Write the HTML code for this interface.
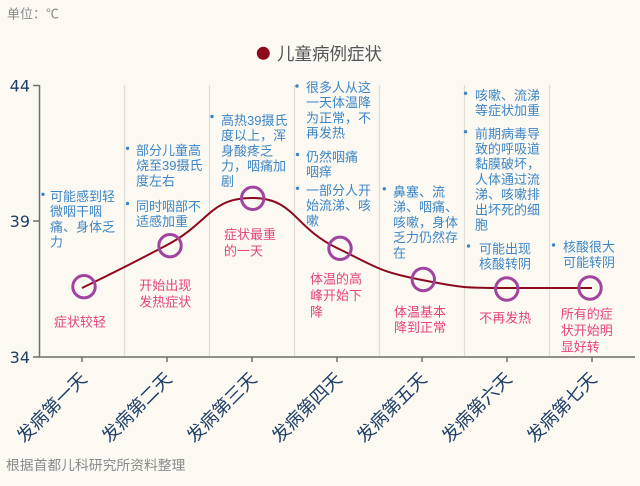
<!DOCTYPE html>
<html><head><meta charset="utf-8"><style>
html,body{margin:0;padding:0;background:#fcf9f2;}
svg{display:block;}
.b{font-family:"Liberation Sans","Noto Sans CJK SC",sans-serif;font-size:13px;fill:#3d86c6;}
.p{font-family:"Liberation Sans","Noto Sans CJK SC",sans-serif;font-size:13px;fill:#e2457a;}
.g{font-family:"Liberation Sans","Noto Sans CJK SC",sans-serif;fill:#8a8a8a;}
.xl{font-family:"Liberation Sans","Noto Sans CJK SC",sans-serif;font-size:18px;fill:#1f3f66;}
.yl{font-family:"DejaVu Sans","Liberation Sans",sans-serif;font-size:16px;fill:#1f3f66;}
</style></head><body>
<svg width="640" height="486" viewBox="0 0 640 486" xmlns="http://www.w3.org/2000/svg">
<rect width="640" height="486" fill="#fcf9f2"/>
<text class="g" x="7" y="18.5" font-size="13">单位：℃</text>
<circle cx="263.3" cy="53.3" r="6.5" fill="#8b0a1e"/>
<text x="277" y="60" font-family="Liberation Sans, Noto Sans CJK SC, sans-serif" font-size="17.5" fill="#555">儿童病例症状</text>

<g stroke="#e0ddd4" stroke-width="1.2">
<line x1="124.5" y1="85" x2="124.5" y2="357"/>
<line x1="209.5" y1="85" x2="209.5" y2="357"/>
<line x1="294.5" y1="85" x2="294.5" y2="357"/>
<line x1="379.5" y1="85" x2="379.5" y2="357"/>
<line x1="464.5" y1="85" x2="464.5" y2="357"/>
<line x1="549.5" y1="85" x2="549.5" y2="357"/>
</g>
<g stroke="#6e6e6e" stroke-width="1.5" fill="none">
<line x1="39.5" y1="85" x2="39.5" y2="357"/>
<line x1="33" y1="85.5" x2="39.5" y2="85.5"/>
<line x1="33" y1="221" x2="39.5" y2="221"/>
<line x1="33" y1="357" x2="635" y2="357"/>
<line x1="82" y1="357" x2="82" y2="362"/>
<line x1="167" y1="357" x2="167" y2="362"/>
<line x1="252" y1="357" x2="252" y2="362"/>
<line x1="337" y1="357" x2="337" y2="362"/>
<line x1="422" y1="357" x2="422" y2="362"/>
<line x1="507" y1="357" x2="507" y2="362"/>
<line x1="592" y1="357" x2="592" y2="362"/>
</g>
<text class="yl" x="30" y="91.5" text-anchor="end">44</text>
<text class="yl" x="30" y="227" text-anchor="end">39</text>
<text class="yl" x="30" y="363" text-anchor="end">34</text>

<text class="xl" text-anchor="end" transform="translate(88,380) rotate(-45)">发病第一天</text>
<text class="xl" text-anchor="end" transform="translate(173,380) rotate(-45)">发病第二天</text>
<text class="xl" text-anchor="end" transform="translate(258,380) rotate(-45)">发病第三天</text>
<text class="xl" text-anchor="end" transform="translate(343,380) rotate(-45)">发病第四天</text>
<text class="xl" text-anchor="end" transform="translate(428,380) rotate(-45)">发病第五天</text>
<text class="xl" text-anchor="end" transform="translate(513,380) rotate(-45)">发病第六天</text>
<text class="xl" text-anchor="end" transform="translate(598,380) rotate(-45)">发病第七天</text>

<path d="M82,288 C82,288 124.9,267.3 167,245 C209.9,222.3 209.8,198 252,198 C294.8,198 292.7,226.6 337,248 C377.7,267.6 378.2,271.5 422,280 C463.2,288 464.4,288 507,288 C549.5,288 549.5,288 592,288" fill="none" stroke="#8b0a1e" stroke-width="2"/>
<g fill="none" stroke="#a0449f" stroke-width="3">
<circle cx="84" cy="286.7" r="11.2"/>
<circle cx="170" cy="245.7" r="11.2"/>
<circle cx="252.7" cy="198.3" r="11.2"/>
<circle cx="340" cy="248.3" r="11.2"/>
<circle cx="423.3" cy="279.5" r="11.2"/>
<circle cx="506.8" cy="289" r="11.2"/>
<circle cx="590" cy="288" r="11.2"/>
</g>

<g fill="#3d86c6">
<circle cx="43" cy="194.3" r="1.7"/>
<circle cx="127.5" cy="148.3" r="1.7"/>
<circle cx="127.5" cy="203.5" r="1.7"/>
<circle cx="212" cy="116.5" r="1.7"/>
<circle cx="297" cy="86" r="1.7"/>
<circle cx="297.5" cy="154.5" r="1.7"/>
<circle cx="297.5" cy="188.3" r="1.7"/>
<circle cx="384.3" cy="188.8" r="1.7"/>
<circle cx="465.5" cy="93.3" r="1.7"/>
<circle cx="465.5" cy="131.7" r="1.7"/>
<circle cx="468.5" cy="246" r="1.7"/>
<circle cx="553.5" cy="245" r="1.7"/>
</g>

<text class="b" x="50" y="201">可能感到轻</text>
<text class="b" x="50" y="216.2">微咽干咽</text>
<text class="b" x="50" y="231.4">痛、身体乏</text>
<text class="b" x="50" y="246.6">力</text>

<text class="b" x="136" y="155">部分儿童高</text>
<text class="b" x="136" y="170.2">烧至39摄氏</text>
<text class="b" x="136" y="185.4">度左右</text>
<text class="b" x="136" y="211">同时咽部不</text>
<text class="b" x="136" y="226.2">适感加重</text>

<text class="b" x="221" y="125">高热39摄氏</text>
<text class="b" x="221" y="140.2">度以上，浑</text>
<text class="b" x="221" y="155.4">身酸疼乏</text>
<text class="b" x="221" y="170.6">力，咽痛加</text>
<text class="b" x="221" y="185.8">剧</text>

<text class="b" x="306" y="92">很多人从这</text>
<text class="b" x="306" y="107.2">一天体温降</text>
<text class="b" x="306" y="122.4">为正常，不</text>
<text class="b" x="306" y="137.6">再发热</text>
<text class="b" x="306" y="161.5">仍然咽痛</text>
<text class="b" x="306" y="176.7">咽痒</text>
<text class="b" x="306" y="195">一部分人开</text>
<text class="b" x="306" y="210.2">始流涕、咳</text>
<text class="b" x="306" y="225.4">嗽</text>

<text class="b" x="393" y="196.5">鼻塞、流</text>
<text class="b" x="393" y="211.7">涕、咽痛、</text>
<text class="b" x="393" y="226.9">咳嗽，身体</text>
<text class="b" x="393" y="242.1">乏力仍然存</text>
<text class="b" x="393" y="257.3">在</text>

<text class="b" x="475" y="100">咳嗽、流涕</text>
<text class="b" x="475" y="115.2">等症状加重</text>
<text class="b" x="475" y="138.3">前期病毒导</text>
<text class="b" x="475" y="153.5">致的呼吸道</text>
<text class="b" x="475" y="168.7">黏膜破坏，</text>
<text class="b" x="475" y="183.9">人体通过流</text>
<text class="b" x="475" y="199.1">涕、咳嗽排</text>
<text class="b" x="475" y="214.3">出坏死的细</text>
<text class="b" x="475" y="229.5">胞</text>
<text class="b" x="479" y="253.3">可能出现</text>
<text class="b" x="479" y="268.5">核酸转阴</text>

<text class="b" x="563" y="251.7">核酸很大</text>
<text class="b" x="563" y="266.9">可能转阴</text>

<text class="p" x="54" y="326.7">症状较轻</text>
<text class="p" x="139.3" y="290">开始出现</text>
<text class="p" x="139.3" y="306.7">发热症状</text>
<text class="p" x="224" y="239">症状最重</text>
<text class="p" x="224" y="255.7">的一天</text>
<text class="p" x="310" y="283.3">体温的高</text>
<text class="p" x="310" y="300">峰开始下</text>
<text class="p" x="310" y="316.7">降</text>
<text class="p" x="394" y="316.7">体温基本</text>
<text class="p" x="394" y="332">降到正常</text>
<text class="p" x="479.3" y="322.3">不再发热</text>
<text class="p" x="560.7" y="318.3">所有的症</text>
<text class="p" x="560.7" y="335">状开始明</text>
<text class="p" x="560.7" y="351.5">显好转</text>

<text class="g" x="6" y="470" font-size="13.8">根据首都儿科研究所资料整理</text>
</svg>
</body></html>
